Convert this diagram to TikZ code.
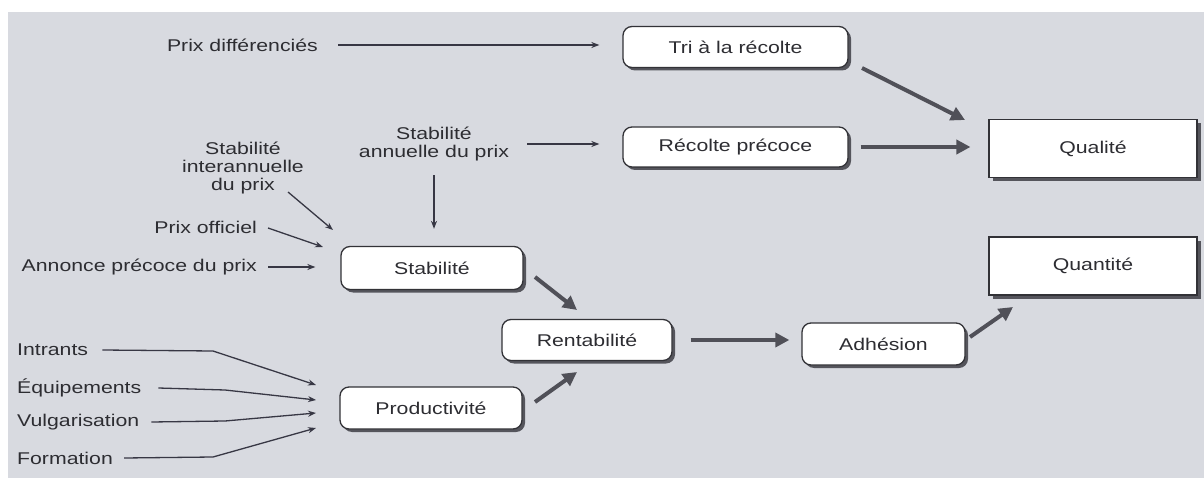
\documentclass[tikz,border=0pt]{standalone}
\usepackage{fontspec}
\setmainfont{Liberation Sans}[FakeStretch=1.25]
\usetikzlibrary{arrows.meta,shadows,calc}
\definecolor{bg}{RGB}{216,218,224}
\definecolor{ink}{RGB}{45,45,50}
\definecolor{arrowc}{RGB}{55,55,68}
\definecolor{thickc}{RGB}{80,80,88}
\definecolor{bord}{RGB}{50,50,55}
\definecolor{shad}{RGB}{85,85,92}
\begin{document}
\begin{tikzpicture}[x=1pt,y=-1pt,
  every node/.style={font=\fontsize{17}{18}\selectfont, text=ink},
  rbox/.style={draw=bord, line width=1.3pt, fill=white, rounded corners=9pt,
    drop shadow={shadow xshift=3pt, shadow yshift=-3pt, fill=shad, opacity=1}, inner sep=0pt},
  sbox/.style={draw=bord, line width=1.1pt, fill=white,
    drop shadow={shadow xshift=4pt, shadow yshift=-4pt, fill=shad, opacity=1},
    inner sep=0pt, minimum width=208pt, minimum height=58pt},
  lbl/.style={inner sep=1pt, align=center},
  thinarr/.style={draw=arrowc, line width=1.3pt, -{Stealth[length=8pt,width=6pt]}},
  thickarr/.style={draw=thickc, line width=4pt, -{Triangle[length=14pt,width=14pt]}},
]
% background
\fill[white] (0,0) rectangle (1204,478);
\fill[bg] (8,12) rectangle (1204,478);
\useasboundingbox (0,0) rectangle (1204,478);

% boxes
\node[rbox, minimum width=225pt, minimum height=41pt] (tri) at (735.5,47) {Tri à la récolte};
\node[rbox, minimum width=225pt, minimum height=40pt] (rec) at (735.5,147) {Récolte précoce};
\node[sbox] (qual) at (1093,148.5) {Qualité};
\node[sbox] (quant) at (1093,266) {Quantité};
\node[rbox, minimum width=182pt, minimum height=43pt] (stab) at (432,268) {Stabilité};
\node[rbox, minimum width=170pt, minimum height=41pt] (rent) at (587,340) {Rentabilité};
\node[rbox, minimum width=163pt, minimum height=42pt] (adh) at (883.5,344) {Adhésion};
\node[rbox, minimum width=182pt, minimum height=42pt] (prod) at (431,408) {Productivité};

% labels
\node[lbl, anchor=east] (pdiff) at (319,45) {Prix différenciés};
\node[lbl] (sann) at (434,144) {Stabilité\\annuelle du prix};
\node[lbl] (sint) at (243,168) {Stabilité\\interannuelle\\du prix};
\node[lbl, anchor=east] (poff) at (258,227) {Prix officiel};
\node[lbl, anchor=east] (annon) at (258,267) {Annonce précoce du prix};
\node[lbl, anchor=west] (intr) at (16,350) {Intrants};
\node[lbl, anchor=west] (equip) at (16,388) {Équipements};
\node[lbl, anchor=west] (vulg) at (16,422) {Vulgarisation};
\node[lbl, anchor=west] (form) at (16,458) {Formation};

% connector points
\coordinate (sintE) at (288,192);
\coordinate (stabA) at (333,230);
\coordinate (poffE) at (268,228);
\coordinate (stabB) at (323,247);
\coordinate (intrBend) at (213,351);
\coordinate (equipBend) at (225,390);
\coordinate (vulgBend) at (225,421);
\coordinate (formBend) at (213,457);
\coordinate (prodA) at (316,385);
\coordinate (prodB) at (316,400);
\coordinate (prodC) at (316,413);
\coordinate (prodD) at (316,428);
\coordinate (triE) at (862,68);
\coordinate (qualA) at (965,120);
\coordinate (stabE) at (535,277);
\coordinate (rentA) at (577,310);
\coordinate (prodE) at (535,402);
\coordinate (rentB) at (577,372);
\coordinate (adhE) at (970,337);
\coordinate (quantA) at (1013,307);

% thin arrows
\draw[thinarr, shorten <=19pt, shorten >=23pt] (pdiff.east) -- (pdiff.east -| tri.west);
\draw[thinarr, shorten <=17pt, shorten >=23pt] (sann.east) -- (sann.east -| rec.west);
\draw[thinarr, shorten <=13pt, shorten >=17pt] (sann.south) -- (sann.south |- stab.north);
\draw[thinarr] (sintE) -- (stabA);
\draw[thinarr] (poffE) -- (stabB);
\draw[thinarr, shorten <=10pt, shorten >=25pt] (annon.east) -- (annon.east -| stab.west);
\draw[thinarr] ([xshift=13pt]intr.east) -- (intrBend) -- (prodA);
\draw[thinarr] ([xshift=16pt]equip.east) -- (equipBend) -- (prodB);
\draw[thinarr] ([xshift=11pt]vulg.east) -- (vulgBend) -- (prodC);
\draw[thinarr] ([xshift=10pt]form.east) -- (formBend) -- (prodD);

% thick arrows
\draw[thickarr] (triE) -- (qualA);
\draw[thickarr, shorten <=12pt, shorten >=18pt] (rec.east) -- (rec.east -| qual.west);
\draw[thickarr] (stabE) -- (rentA);
\draw[thickarr] (prodE) -- (rentB);
\draw[thickarr, shorten <=18pt, shorten >=12pt] (rent.east) -- (rent.east -| adh.west);
\draw[thickarr] (adhE) -- (quantA);
\end{tikzpicture}
\end{document}
